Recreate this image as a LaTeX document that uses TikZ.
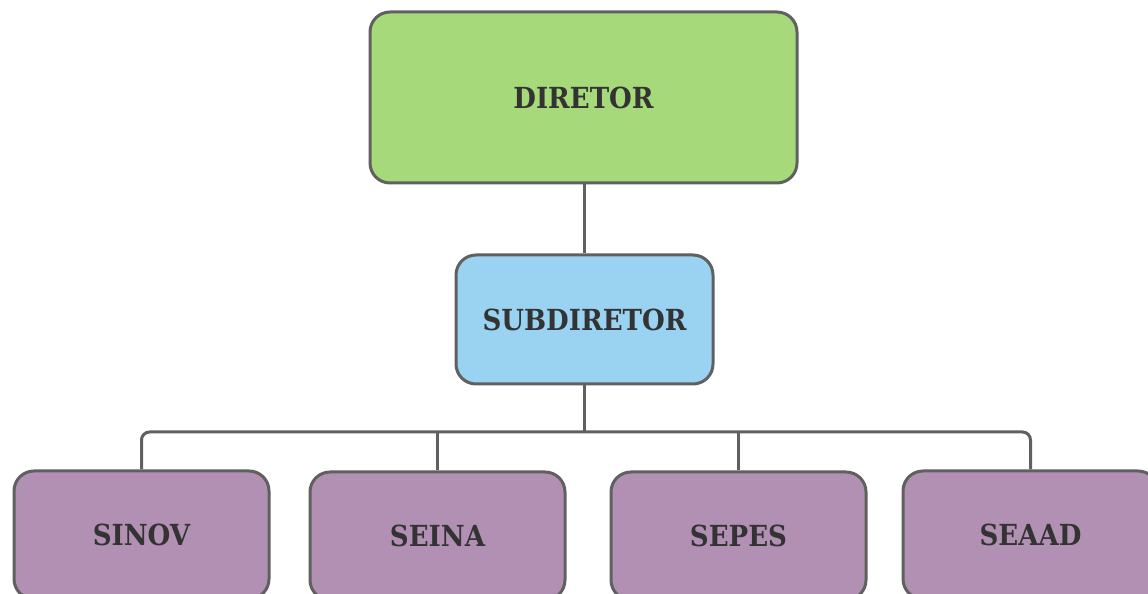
\documentclass[tikz,border=0pt]{standalone}
\usepackage{fontspec}
\setmainfont{DejaVu Serif Condensed}
\definecolor{edgegray}{HTML}{606060}
\definecolor{txtgray}{HTML}{333333}
\definecolor{dirgreen}{HTML}{A5D979}
\definecolor{subblue}{HTML}{9AD2F2}
\definecolor{secpurple}{HTML}{B290B3}
\tikzset{
  box/.style={draw=edgegray, line width=3pt, rounded corners=20pt, text=txtgray,
    font=\fontsize{29}{33}\selectfont\bfseries, inner sep=0pt},
  conn/.style={draw=edgegray, line width=3pt}
}
\begin{document}
\begin{tikzpicture}[x=1pt,y=1pt]
\useasboundingbox (0,0) rectangle (1148,594);
\node[box, fill=dirgreen, minimum width=427pt, minimum height=171pt] (dir) at (583.5,496.5) {DIRETOR};
\node[box, fill=subblue, minimum width=257pt, minimum height=129pt] (sub) at (584.5,274.5) {SUBDIRETOR};
\node[box, fill=secpurple, minimum width=255pt, minimum height=128pt] (sinov) at (141.5,59) {SINOV};
\node[box, fill=secpurple, minimum width=255pt, minimum height=128pt] (seina) at (437.5,58) {SEINA};
\node[box, fill=secpurple, minimum width=255pt, minimum height=128pt] (sepes) at (738.5,58) {SEPES};
\node[box, fill=secpurple, minimum width=255pt, minimum height=128pt] (seaad) at (1030.5,59) {SEAAD};
\coordinate (bus) at (0,162);
\draw[conn] (dir.south -| sub.north) -- (sub.north);
\draw[conn, rounded corners=8pt] (sinov.north) -- (sinov.north |- bus) -- (seaad.north |- bus) -- (seaad.north);
\draw[conn] (sub.south) -- (sub.south |- bus);
\draw[conn] (seina.north) -- (seina.north |- bus);
\draw[conn] (sepes.north) -- (sepes.north |- bus);
\end{tikzpicture}
\end{document}
